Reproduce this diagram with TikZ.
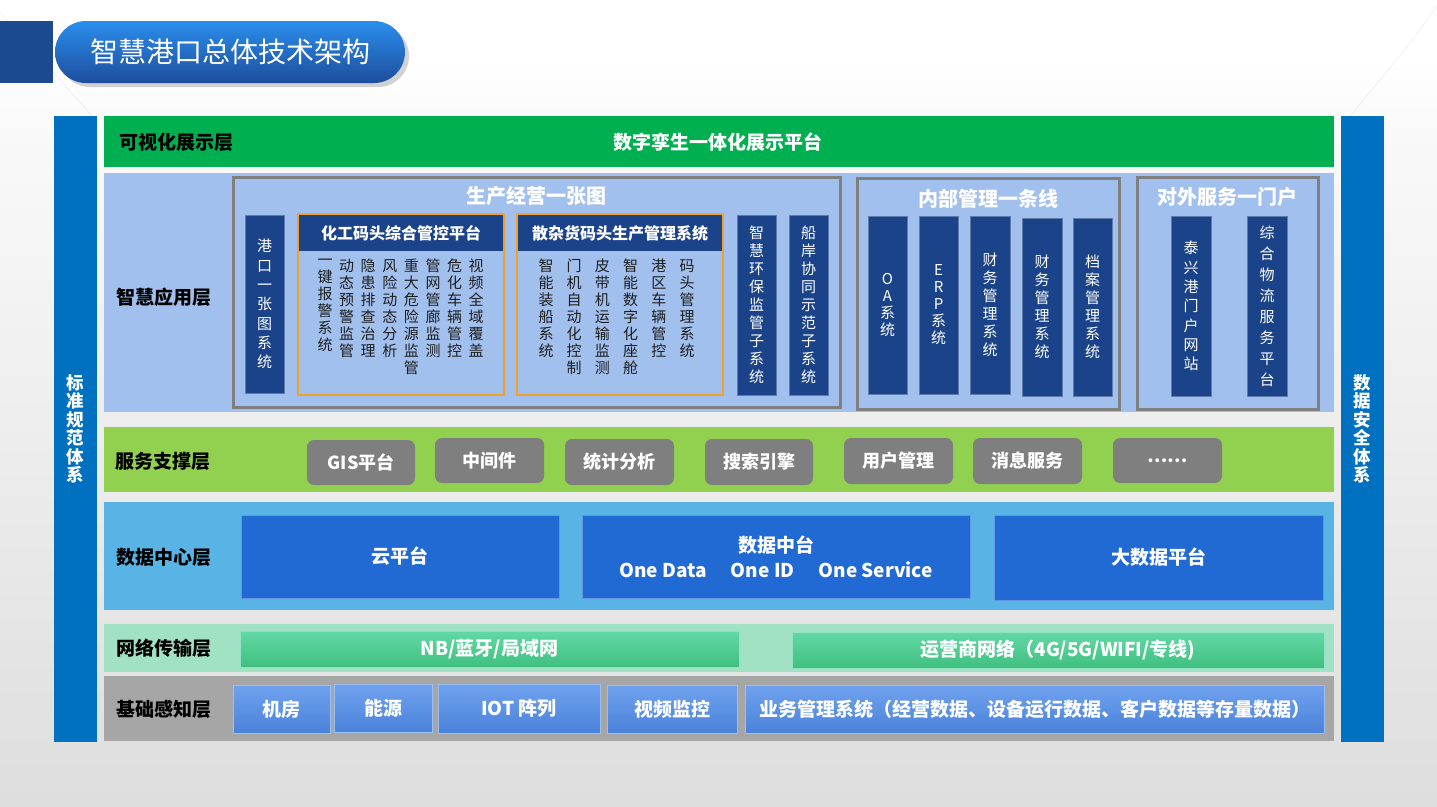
\documentclass[tikz,border=0pt]{standalone}
\usepackage{fontspec}
\setmainfont{Noto Sans CJK SC}
\usetikzlibrary{shadows}
\definecolor{cside}{HTML}{0070C0}
\definecolor{cgreen}{HTML}{00B050}
\definecolor{capp}{HTML}{A2C0EE}
\definecolor{cdark}{HTML}{1B4389}
\definecolor{cgrpline}{HTML}{7F7F7F}
\definecolor{corange}{HTML}{F2A128}
\definecolor{csvc}{HTML}{92D050}
\definecolor{cbtn}{HTML}{7F7F7F}
\definecolor{cdata}{HTML}{58B4E4}
\definecolor{cdbox}{HTML}{2169D3}
\definecolor{cnet}{HTML}{A2E2C4}
\definecolor{cnettop}{HTML}{62D8A6}
\definecolor{cnetbot}{HTML}{40C07F}
\definecolor{cbase}{HTML}{A6A6A6}
\definecolor{cbtop}{HTML}{70A2EE}
\definecolor{cbbot}{HTML}{4A82DA}
\definecolor{ctdark}{HTML}{1B4A8E}
\definecolor{cptop}{HTML}{2A8EEC}
\definecolor{cpbot}{HTML}{1E4D9E}
\definecolor{ctxt}{HTML}{1E1E1E}
\definecolor{cdeco}{HTML}{E6ECF9}
\newcommand\fsz[2]{\fontsize{#1}{#2}\selectfont}
\newcommand\bx[7]{%
  \pgfmathsetmacro\bxw{#4-#2}\pgfmathsetmacro\bxh{#5-#3}%
  \node[inner sep=0pt, #6, minimum width=\bxw pt, minimum height=\bxh pt, anchor=center] (#1) at ({(#2+#4)/2},{(#3+#5)/2}) {#7};}
\tikzset{
  lbl/.style={font=\fsz{19}{22}\bfseries, text=black},
  grp/.style={draw=cgrpline, line width=3pt},
  grptitle/.style={font=\fsz{20}{24}\bfseries, text=white},
  col/.style={fill=cdark, draw=cdark!70!white, line width=0.8pt, text=white, align=center},
  orng/.style={draw=corange, line width=2pt},
  hdr/.style={fill=cdark, text=white, font=\fsz{16}{18}\bfseries},
  sub/.style={anchor=north, align=center, text=ctxt, inner sep=0pt, font=\fsz{15}{17}},
  btn/.style={fill=cbtn, rounded corners=7pt, text=white, font=\fsz{18}{22}\bfseries},
  dbox/.style={fill=cdbox, draw=cdbox!70!white, line width=0.8pt, text=white, align=center, font=\fsz{19}{25}\bfseries},
  nbox/.style={top color=cnettop, bottom color=cnetbot, draw=cnettop!70!white, line width=0.8pt, text=white, font=\fsz{19}{22}\bfseries},
  pbox/.style={top color=cbtop, bottom color=cbbot, draw=cbtop!70!white, line width=0.8pt, text=white, font=\fsz{19}{22}\bfseries},
  side/.style={fill=cside, text=white, align=center, font=\fsz{17.5}{18.5}\bfseries},
}
\begin{document}
\begin{tikzpicture}[x=1pt,y=-1pt]
\useasboundingbox (0,0) rectangle (1437,806);
% background
\shade[top color=white, bottom color=black!13] (0,0) rectangle (1437,806);
\fill[white] (0,0) rectangle (1437,60);
\shade[top color=white, bottom color=white!97!black] (0,60) rectangle (1437,160);
% faint decorative lines
\draw[cdeco, line width=0.5pt] (0,12) -- (92,116);
\draw[cdeco, line width=0.5pt] (1437,6) .. controls (1405,50) .. (1350,116);
% title
\bx{TS}{0}{21}{53}{83}{fill=ctdark}{}
\bx{TP}{55}{21}{405}{83}{top color=cptop, bottom color=cpbot, rounded corners=31pt, drop shadow={shadow xshift=4pt, shadow yshift=-4pt, opacity=0.35}, text=white, font=\fsz{28}{30}}{智慧港口总体技术架构}
% side bars
\bx{SL}{54}{116}{97}{742}{side}{标\\准\\规\\范\\体\\系}
\bx{SR}{1341}{116}{1384}{742}{side}{数\\据\\安\\全\\体\\系}
% layer 1
\bx{L1}{104}{116}{1334}{167}{fill=cgreen}{}
\node[lbl, anchor=west] (L1t) at (116,142) {可视化展示层};
\node[font=\fsz{19}{22}\bfseries, text=white] (L1c) at (718,142) {数字孪生一体化展示平台};
% layer 2
\bx{L2}{104}{173}{1334}{412}{fill=capp}{}
\node[lbl] (L2t) at (164,297) {智慧应用层};
\bx{G1}{233}{177}{840}{407}{grp}{}
\node[grptitle] (G1t) at (536,196) {生产经营一张图};
\bx{A1}{245}{215}{284}{393}{col, font=\fsz{15}{19.3}}{港\\口\\一\\张\\图\\系\\统}
\bx{H1}{298}{214}{504}{395}{orng}{}
\bx{H1h}{299}{215}{503}{251}{hdr}{化工码头综合管控平台}
\node[sub] (h11) at (325,259) {一\\键\\报\\警\\系\\统};
\node[sub] (h12) at (346.6,259) {动\\态\\预\\警\\监\\管};
\node[sub] (h13) at (368.2,259) {隐\\患\\排\\查\\治\\理};
\node[sub] (h14) at (389.8,259) {风\\险\\动\\态\\分\\析};
\node[sub] (h15) at (411.4,259) {重\\大\\危\\险\\源\\监\\管};
\node[sub] (h16) at (433,259) {管\\网\\管\\廊\\监\\测};
\node[sub] (h17) at (454.6,259) {危\\化\\车\\辆\\管\\控};
\node[sub] (h18) at (476.2,259) {视\\频\\全\\域\\覆\\盖};
\bx{H2}{517}{214}{723}{395}{orng}{}
\bx{H2h}{518}{215}{722}{251}{hdr}{散杂货码头生产管理系统}
\node[sub] (h21) at (546,259) {智\\能\\装\\船\\系\\统};
\node[sub] (h22) at (574.2,259) {门\\机\\自\\动\\化\\控\\制};
\node[sub] (h23) at (602.4,259) {皮\\带\\机\\运\\输\\监\\测};
\node[sub] (h24) at (630.6,259) {智\\能\\数\\字\\化\\座\\舱};
\node[sub] (h25) at (658.8,259) {港\\区\\车\\辆\\管\\控};
\node[sub] (h26) at (687,259) {码\\头\\管\\理\\系\\统};
\bx{A2}{737}{215}{776}{395}{col, font=\fsz{15}{18}}{智\\慧\\环\\保\\监\\管\\子\\系\\统}
\bx{A3}{789}{215}{828}{395}{col, font=\fsz{15}{18}}{船\\岸\\协\\同\\示\\范\\子\\系\\统}
\bx{G2}{857}{178}{1119}{409}{grp}{}
\node[grptitle] (G2t) at (988,199) {内部管理一条线};
\bx{B1}{868}{216}{907}{394}{col, font=\fsz{15}{17}}{O\\A\\系\\统}
\bx{B2}{919}{216}{958}{394}{col, font=\fsz{15}{17}}{E\\R\\P\\系\\统}
\bx{B3}{970}{216}{1010}{394}{col, font=\fsz{15}{18}}{财\\务\\管\\理\\系\\统}
\bx{B4}{1022}{218}{1062}{396}{col, font=\fsz{15}{18}}{财\\务\\管\\理\\系\\统}
\bx{B5}{1073}{218}{1112}{396}{col, font=\fsz{15}{18}}{档\\案\\管\\理\\系\\统}
\bx{G3}{1137}{177}{1318}{409}{grp}{}
\node[grptitle] (G3t) at (1227,197) {对外服务一门户};
\bx{C1}{1171}{216}{1211}{396}{col, font=\fsz{15}{19.3}}{泰\\兴\\港\\门\\户\\网\\站}
\bx{C2}{1247}{216}{1287}{396}{col, font=\fsz{15}{21}}{综\\合\\物\\流\\服\\务\\平\\台}
% layer 3
\bx{L3}{104}{427}{1334}{492}{fill=csvc}{}
\node[lbl] (L3t) at (163,461) {服务支撑层};
\bx{S1}{307}{440}{415}{485}{btn}{GIS平台}
\bx{S2}{435}{438}{544}{483}{btn}{中间件}
\bx{S3}{565}{439}{674}{485}{btn}{统计分析}
\bx{S4}{705}{439}{813}{485}{btn}{搜索引擎}
\bx{S5}{844}{438}{953}{484}{btn}{用户管理}
\bx{S6}{973}{438}{1082}{484}{btn}{消息服务}
\bx{S7}{1113}{438}{1222}{483}{btn}{……}
% layer 4
\bx{L4}{104}{502}{1334}{610}{fill=cdata}{}
\node[lbl] (L4t) at (164,557) {数据中心层};
\bx{D1}{241}{515}{559}{598}{dbox}{云平台}
\bx{D2}{582}{515}{970}{598}{dbox}{数据中台\\One Data\hspace{24pt}One ID\hspace{24pt}One Service}
\bx{D3}{994}{515}{1323}{600}{dbox}{大数据平台}
% layer 5
\bx{L5}{104}{624}{1334}{672}{fill=cnet}{}
\node[lbl] (L5t) at (164,648) {网络传输层};
\bx{N1}{240}{631}{739}{667}{nbox}{NB/蓝牙/局域网}
\bx{N2}{792}{632}{1324}{668}{nbox}{运营商网络（4G/5G/WIFI/专线)}
% layer 6
\bx{L6}{104}{676}{1334}{741}{fill=cbase}{}
\node[lbl] (L6t) at (164,709) {基础感知层};
\bx{P1}{233}{685}{330}{733}{pbox}{机房}
\bx{P2}{334}{684}{432}{732}{pbox}{能源}
\bx{P3}{438}{684}{600}{733}{pbox}{IOT 阵列}
\bx{P4}{607}{685}{737}{733}{pbox}{视频监控}
\bx{P5}{745}{685}{1324}{733}{pbox}{业务管理系统（经营数据、设备运行数据、客户数据等存量数据）}
\end{tikzpicture}
\end{document}
